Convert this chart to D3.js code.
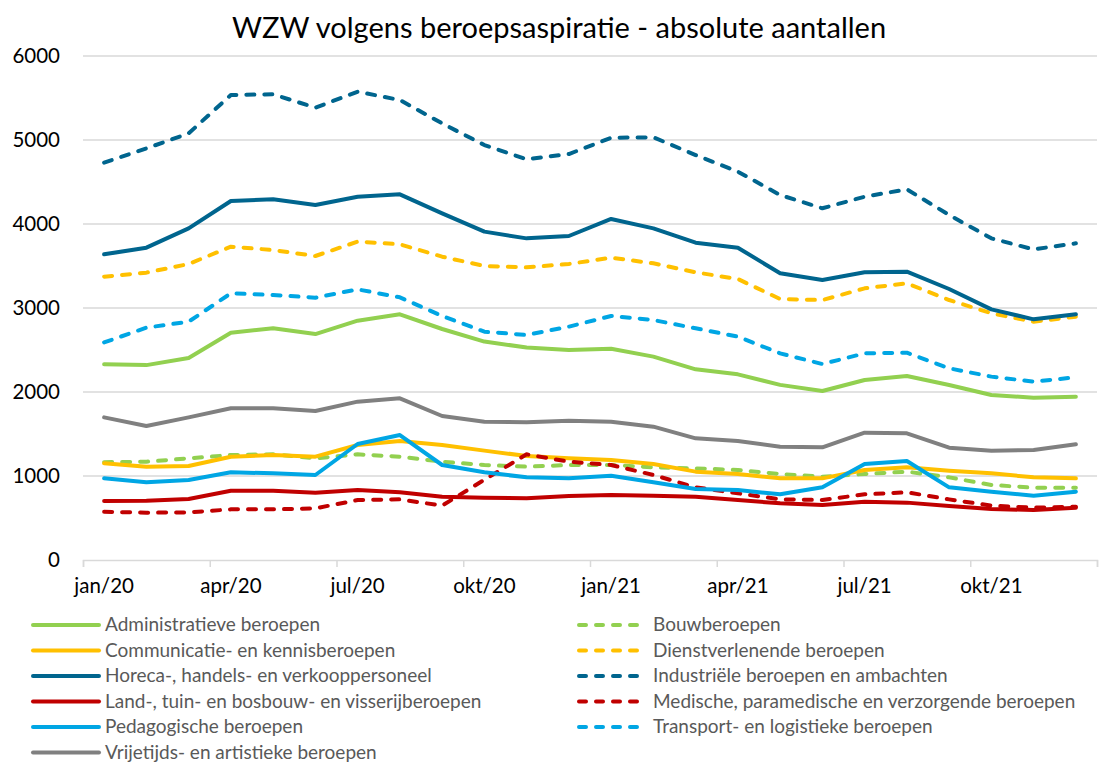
<!DOCTYPE html>
<html>
<head>
<meta charset="utf-8">
<script src="https://cdn.jsdelivr.net/npm/d3@7"></script>
<style>
  body { margin: 0; background: #fff; }
  svg { display: block; font-family: Lato, "Open Sans", sans-serif; }
</style>
</head>
<body>
<svg id="chart" width="1110" height="764"></svg>
<script>
// months jan/20 .. dec/21
const months = d3.range(24).map((i) => new Date(2020, i, 1));
const tickLabels = ["jan/20", "apr/20", "jul/20", "okt/20", "jan/21", "apr/21", "jul/21", "okt/21"];
const yTicks = [0, 1000, 2000, 3000, 4000, 5000, 6000];

const administratief = [2330, 2320, 2405, 2706, 2760, 2690, 2849, 2925, 2750, 2600, 2530, 2500, 2515, 2421, 2270, 2210, 2085, 2012, 2143, 2190, 2083, 1964, 1932, 1944];
const bouw = [1165, 1170, 1210, 1250, 1258, 1210, 1258, 1230, 1170, 1131, 1111, 1131, 1131, 1103, 1091, 1071, 1024, 992, 1024, 1052, 984, 893, 861, 861];
const communicatie = [1151, 1111, 1119, 1230, 1250, 1230, 1369, 1417, 1369, 1302, 1238, 1210, 1190, 1143, 1052, 1024, 972, 972, 1071, 1103, 1063, 1032, 984, 972];
const dienstverlenend = [3373, 3421, 3524, 3730, 3690, 3619, 3790, 3758, 3611, 3500, 3484, 3524, 3599, 3532, 3425, 3345, 3107, 3095, 3234, 3294, 3095, 2937, 2837, 2897];
const horeca = [3639, 3718, 3948, 4274, 4294, 4226, 4325, 4353, 4127, 3909, 3829, 3857, 4060, 3948, 3778, 3718, 3413, 3333, 3425, 3433, 3226, 2984, 2865, 2925];
const industrieel = [4730, 4900, 5079, 5536, 5544, 5385, 5575, 5476, 5198, 4940, 4770, 4833, 5027, 5032, 4821, 4623, 4345, 4187, 4325, 4413, 4107, 3829, 3698, 3770];
const land = [702, 706, 726, 825, 825, 802, 833, 806, 754, 742, 734, 762, 774, 766, 754, 714, 675, 655, 694, 683, 643, 607, 595, 623];
const medisch = [575, 563, 567, 603, 603, 615, 714, 722, 647, 955, 1258, 1170, 1131, 1012, 865, 794, 722, 714, 782, 806, 722, 647, 623, 635];
const pedagogisch = [972, 925, 952, 1044, 1032, 1012, 1381, 1488, 1131, 1044, 984, 972, 1004, 925, 845, 833, 782, 865, 1143, 1179, 865, 813, 766, 813];
const transport = [2590, 2766, 2837, 3175, 3155, 3123, 3222, 3127, 2905, 2718, 2679, 2778, 2905, 2857, 2758, 2659, 2460, 2333, 2460, 2468, 2282, 2183, 2123, 2175];
const vrijetijd = [1698, 1595, 1698, 1806, 1806, 1774, 1885, 1925, 1714, 1647, 1639, 1659, 1647, 1587, 1448, 1417, 1349, 1341, 1516, 1508, 1337, 1302, 1310, 1377];

const series = [
  { name: "Administratieve beroepen", values: administratief, color: "#92D050", dash: false },
  { name: "Bouwberoepen", values: bouw, color: "#92D050", dash: true },
  { name: "Communicatie- en kennisberoepen", values: communicatie, color: "#FFC000", dash: false },
  { name: "Dienstverlenende beroepen", values: dienstverlenend, color: "#FFC000", dash: true },
  { name: "Horeca-, handels- en verkooppersoneel", values: horeca, color: "#00658E", dash: false },
  { name: "Industriële beroepen en ambachten", values: industrieel, color: "#00658E", dash: true },
  { name: "Land-, tuin- en bosbouw- en visserijberoepen", values: land, color: "#C00000", dash: false },
  { name: "Medische, paramedische en verzorgende beroepen", values: medisch, color: "#C00000", dash: true },
  { name: "Pedagogische beroepen", values: pedagogisch, color: "#00A6E4", dash: false },
  { name: "Transport- en logistieke beroepen", values: transport, color: "#00A6E4", dash: true },
  { name: "Vrijetijds- en artistieke beroepen", values: vrijetijd, color: "#808080", dash: false },
];

const svg = d3.select("#chart");
const plotLeft = 83, plotRight = 1097, plotTop = 56, plotBottom = 560;

// each month gets one slot, the point sits in the middle of it
const x = d3.scaleLinear().domain([0, 24]).range([plotLeft, plotRight]);
const y = d3.scaleLinear().domain([0, 6000]).range([plotBottom, plotTop]);

svg.append("text")
  .attr("x", 559).attr("y", 38)
  .attr("text-anchor", "middle")
  .style("font-size", "29px")
  .style("fill", "#000")
  .text("WZW volgens beroepsaspiratie - absolute aantallen");

// gridlines
svg.append("g")
  .selectAll("line")
  .data(yTicks.filter((d) => d > 0))
  .join("line")
  .attr("x1", plotLeft).attr("x2", plotRight)
  .attr("y1", (d) => y(d)).attr("y2", (d) => y(d))
  .attr("stroke", "#D9D9D9").attr("stroke-width", 1.5);

// y axis labels
svg.append("g")
  .selectAll("text")
  .data(yTicks)
  .join("text")
  .attr("x", 60).attr("y", (d) => y(d) + 7)
  .attr("text-anchor", "end")
  .style("font-size", "20.5px")
  .text((d) => d);

// x axis
const xAxis = d3.axisBottom(x)
  .tickValues(d3.range(0, 25, 3))
  .tickSize(7)
  .tickFormat("");
const gx = svg.append("g").attr("transform", `translate(0,${plotBottom})`).call(xAxis);
gx.select(".domain").attr("stroke", "#D9D9D9").attr("stroke-width", 1.5);
gx.selectAll(".tick line").attr("stroke", "#D9D9D9").attr("stroke-width", 1.5);

svg.append("g")
  .selectAll("text")
  .data(tickLabels)
  .join("text")
  .attr("x", (d, i) => x(i * 3 + 0.5))
  .attr("y", 593)
  .attr("text-anchor", "middle")
  .style("font-size", "20.5px")
  .text((d) => d);

// lines
const line = d3.line()
  .x((d, i) => x(i + 0.5))
  .y((d) => y(d));

svg.append("g")
  .selectAll("path")
  .data(series)
  .join("path")
  .attr("d", (d) => line(d.values))
  .attr("fill", "none")
  .attr("stroke", (d) => d.color)
  .attr("stroke-width", 4)
  .attr("stroke-linecap", "round")
  .attr("stroke-linejoin", "round")
  .attr("stroke-dasharray", (d) => (d.dash ? "8,10" : null));

// legend, two columns
const legend = svg.append("g")
  .selectAll("g")
  .data(series)
  .join("g")
  .attr("transform", (d, i) => {
    const col = i % 2, row = Math.floor(i / 2);
    return `translate(${col ? 579 : 33},${625 + row * 25.5})`;
  });

legend.append("line")
  .attr("x1", 0).attr("x2", 66)
  .attr("stroke", (d) => d.color)
  .attr("stroke-width", 4)
  .attr("stroke-linecap", "round")
  .attr("stroke-dasharray", (d) => (d.dash ? "7,10" : null));

legend.append("text")
  .attr("x", (d, i) => (i % 2 ? 74 : 72))
  .attr("y", 6)
  .style("font-size", "19px")
  .style("fill", "#595959")
  .text((d) => d.name);
</script>
</body>
</html>
